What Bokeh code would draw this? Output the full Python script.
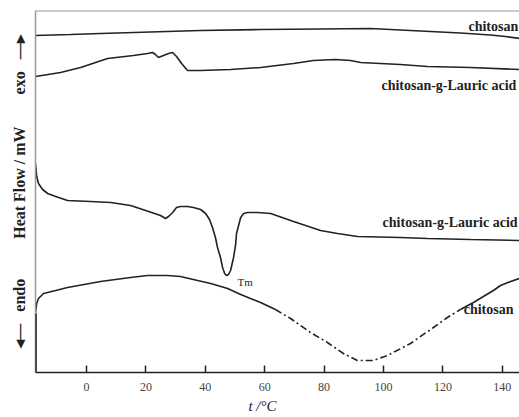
from bokeh.plotting import figure
from bokeh.models import Range1d, Label, Span, Arrow, FixedTicker
from bokeh.embed import file_html
from bokeh.resources import INLINE

# DSC traces: temperature (°C) and heat flow (offset, arbitrary mW units)
chitosan_top_t = [-17.2, -5.4, 4.7, 21.5, 38.4, 58.6, 78.8, 95.6, 105.7, 115.8, 125.9, 136.0, 141.1, 145.8]
chitosan_top_q = [33.7, 33.8, 33.9, 34.05, 34.2, 34.3, 34.35, 34.4, 34.25, 34.1, 33.95, 33.75, 33.6, 33.4]

graft_top_t = [-17.2, -8.75, -2.0, 7.07, 15.8, 20.5, 22.2, 23.2, 24.2, 25.9, 27.6, 28.96, 30.3, 32.0,
               34.0, 38.4, 48.5, 58.6, 69.7, 76.4, 83.8, 88.9, 92.3, 105.7, 114.8, 129.3, 145.8]
graft_top_q = [29.6, 30.0, 30.5, 31.4, 31.7, 31.9, 32.0, 31.8, 31.5, 31.7, 31.9, 32.0, 31.6, 30.9,
               30.2, 30.2, 30.3, 30.5, 30.9, 31.2, 31.3, 31.2, 31.0, 30.8, 30.6, 30.5, 30.3]

graft_low_t = [-17.2, -16.8, -16.2, -14.8, -13.1, -10.4, -6.4, 1.3, 8.1, 14.8, 19.9, 24.9, 26.6, 27.6,
               29.0, 30.3, 31.6, 34.0, 36.0, 38.4, 40.1, 41.4, 42.4, 43.4, 44.1, 45.1, 45.8, 46.5,
               47.1, 47.8, 48.5, 49.5, 50.2, 50.5, 51.2, 51.9, 52.9, 54.2, 57.6, 62.0, 69.7, 78.8,
               84.5, 91.2, 105.7, 114.8, 129.3, 145.8]
graft_low_q = [20.9, 19.6, 18.9, 18.3, 17.9, 17.6, 17.2, 17.1, 17.0, 16.7, 16.2, 15.7, 15.4, 15.6,
               16.0, 16.5, 16.6, 16.6, 16.5, 16.3, 15.9, 15.3, 14.5, 13.5, 12.5, 11.5, 10.5, 9.9,
               9.7, 9.8, 10.2, 11.5, 12.8, 13.9, 14.7, 15.5, 15.9, 16.0, 16.0, 15.9, 15.1, 14.2,
               13.9, 13.6, 13.5, 13.4, 13.3, 13.2]

chitosan_low_t = [-17.2, -16.8, -16.2, -14.5, -10.4, -6.4, 4.7, 14.8, 20.5, 27.3, 31.6, 37.4, 41.8,
                  47.5, 51.9, 55.2, 58.6, 63.6, 68.7, 75.4, 81.1, 86.5, 91.2, 96.6, 101.3, 109.1,
                  116.8, 121.5, 125.9, 130.3, 137.0, 139.4, 142.8, 145.8]
chitosan_low_q = [6.0, 6.9, 7.4, 7.9, 8.2, 8.5, 9.1, 9.5, 9.7, 9.7, 9.6, 9.2, 8.9,
                  8.4, 7.8, 7.4, 7.0, 6.3, 5.4, 4.0, 3.0, 1.9, 1.2, 1.2, 1.7, 2.9,
                  4.5, 5.5, 6.3, 7.0, 8.2, 8.7, 9.1, 9.4]

x_ticks = [0, 20, 40, 60, 80, 100, 120, 140]

X0, X1 = -17.2, 145.8
Y0, Y1 = 0.0, 36.2
INK = "#222222"
SERIF = "Liberation Serif"
NB = "\u00a0"

p = figure(width=519, height=417, output_backend="svg", toolbar_location=None,
           x_range=Range1d(X0, X1), y_range=Range1d(Y0, Y1),
           min_border_left=35, min_border_right=0, min_border_top=10, min_border_bottom=45)
p.outline_line_color = None
p.grid.visible = False
p.background_fill_color = "white"

# bottom axis: inward ticks, serif labels, temperature caption
ax = p.xaxis[0]
ax.ticker = FixedTicker(ticks=x_ticks)
ax.major_tick_in = 7
ax.major_tick_out = 0
ax.minor_tick_line_color = None
ax.major_tick_line_color = INK
ax.major_tick_line_width = 1.5
ax.axis_line_color = INK
ax.axis_line_width = 1.5
ax.major_label_text_font = SERIF
ax.major_label_text_font_size = "12px"
ax.major_label_text_color = "#444444"
ax.major_label_standoff = 10
ax.axis_label = "t /°C" + NB * 8
ax.axis_label_text_font = SERIF
ax.axis_label_text_font_style = "italic"
ax.axis_label_text_font_size = "15px"
ax.axis_label_text_color = INK
ax.axis_label_standoff = 4

# left axis: bare grey spine carrying the heat-flow caption with exo/endo arrows
ay = p.yaxis[0]
ay.ticker = FixedTicker(ticks=[])
ay.major_tick_line_color = None
ay.minor_tick_line_color = None
ay.major_tick_in = 0
ay.major_tick_out = 0
ay.major_label_standoff = 0
ay.axis_line_color = "#999999"
ay.axis_line_width = 1.5
ay.axis_label = (NB * 2 + "◂—" + NB * 3 + "endo" + NB * 10 + "Heat Flow / mW"
                 + NB * 8 + "exo" + NB * 3 + "—▸" + NB * 2)
ay.axis_label_text_font = SERIF
ay.axis_label_text_font_style = "bold"
ay.axis_label_text_font_size = "16px"
ay.axis_label_text_color = INK
ay.axis_label_standoff = 8

# grey top border and the heavier lower section of the left spine
p.add_layout(Span(location=Y1, dimension="width", line_color="#999999", line_width=2))
p.add_layout(Arrow(end=None, x_start=X0, y_start=5.9, x_end=X0, y_end=Y0,
                   line_color="#111111", line_width=2.5))

# traces
p.line(chitosan_top_t, chitosan_top_q, line_color=INK, line_width=1.6)
p.line(graft_top_t, graft_top_q, line_color=INK, line_width=1.6)
p.line(graft_low_t, graft_low_q, line_color=INK, line_width=1.6)
p.line(chitosan_low_t[:18], chitosan_low_q[:18], line_color=INK, line_width=1.6)
p.line(chitosan_low_t[17:29], chitosan_low_q[17:29], line_color=INK, line_width=1.6,
       line_dash="7 3 2 3")
p.line(chitosan_low_t[28:], chitosan_low_q[28:], line_color=INK, line_width=1.6)


def tag(x, y, text, size="14px", style="bold"):
    p.add_layout(Label(x=x, y=y, text=text, text_font=SERIF, text_font_style=style,
                       text_font_size=size, text_align="left", text_baseline="middle",
                       text_color=INK))


tag(128.6, 34.6, "chitosan")
tag(99.3, 28.7, "chitosan-g-Lauric acid")
tag(99.7, 15.0, "chitosan-g-Lauric acid")
tag(127.0, 6.3, "chitosan")
tag(50.8, 9.1, "Tm", size="11px", style="normal")

open("out.html", "w").write(file_html(p, INLINE))
